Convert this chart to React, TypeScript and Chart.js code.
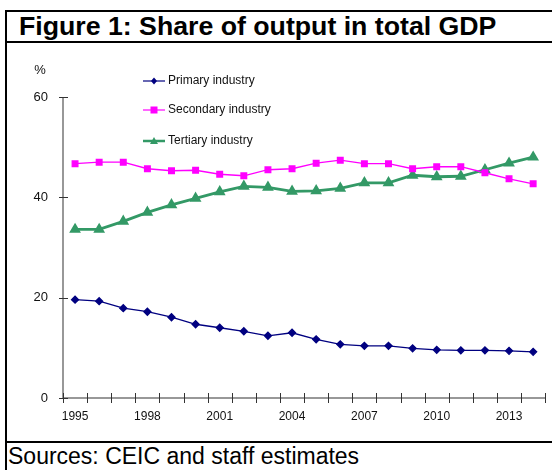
import React, { useEffect, useRef } from "react";
import { Chart, registerables } from "chart.js";

Chart.register(...registerables);

const years = [
  "1995", "1996", "1997", "1998", "1999", "2000", "2001", "2002", "2003", "2004",
  "2005", "2006", "2007", "2008", "2009", "2010", "2011", "2012", "2013", "2014",
];
const primary = [19.6, 19.3, 17.9, 17.2, 16.1, 14.7, 14.0, 13.3, 12.4, 13.0, 11.7, 10.7, 10.4, 10.4, 9.9, 9.6, 9.5, 9.5, 9.4, 9.2];
const secondary = [46.7, 47.0, 47.0, 45.7, 45.3, 45.4, 44.6, 44.3, 45.5, 45.7, 46.8, 47.4, 46.7, 46.7, 45.7, 46.1, 46.1, 44.9, 43.7, 42.7];
const tertiary = [33.6, 33.6, 35.2, 37.0, 38.5, 39.8, 41.1, 42.2, 42.0, 41.2, 41.3, 41.8, 42.9, 42.9, 44.4, 44.1, 44.2, 45.5, 46.8, 48.0];
const yTicks = [0, 20, 40, 60];
const seriesNames = ["Primary industry", "Secondary industry", "Tertiary industry"];
const titleText = "Figure 1: Share of output in total GDP";
const sourceText = "Sources: CEIC and staff estimates";
const unitText = "%";

const FONT = "'Liberation Sans', Arial, Helvetica, sans-serif";
const AXIS = "#777777";

const axesPlugin = {
  id: "customAxes",
  afterDatasetsDraw(chart: any) {
    const { ctx, chartArea, scales } = chart;
    const y = scales.y;
    const y0 = y.getPixelForValue(0);
    const yTop = y.getPixelForValue(60);
    const left = chartArea.left;
    const right = chartArea.right;
    ctx.save();
    ctx.strokeStyle = AXIS;
    ctx.lineWidth = 1.5;
    ctx.beginPath();
    ctx.moveTo(left, yTop);
    ctx.lineTo(left, y0);
    ctx.moveTo(left, y0);
    ctx.lineTo(right, y0);
    ctx.stroke();
    ctx.lineWidth = 1;
    ctx.strokeStyle = "#333";
    ctx.beginPath();
    yTicks.forEach((v) => {
      const py = Math.round(y.getPixelForValue(v)) + 0.5;
      ctx.moveTo(left - 4, py);
      ctx.lineTo(left + 5, py);
    });
    const n = years.length;
    const step = (right - left) / n;
    for (let k = 0; k <= n; k++) {
      const px = Math.round(left + k * step) + 0.5;
      ctx.moveTo(px, y0 - 5);
      ctx.lineTo(px, y0 + 5);
    }
    ctx.stroke();
    ctx.fillStyle = "#111";
    ctx.font = `13px ${FONT}`;
    ctx.textAlign = "center";
    ctx.textBaseline = "middle";
    ctx.fillText(unitText, 32, 27);
    ctx.restore();
  },
};

const legendPlugin = {
  id: "customLegend",
  afterDraw(chart: any) {
    const { ctx } = chart;
    const rows = [38, 67, 98];
    ctx.save();
    chart.data.datasets.forEach((ds: any, i: number) => {
      const yy = rows[i];
      const x1 = 135;
      const x2 = 157;
      ctx.strokeStyle = ds.borderColor;
      ctx.lineWidth = i === 2 ? 2.5 : 1.2;
      ctx.beginPath();
      ctx.moveTo(x1, yy);
      ctx.lineTo(x2, yy);
      ctx.stroke();
      ctx.fillStyle = ds.pointBackgroundColor;
      const cx = (x1 + x2) / 2;
      ctx.beginPath();
      if (ds.pointStyle === "rectRot") {
        ctx.moveTo(cx, yy - 3.5);
        ctx.lineTo(cx + 3, yy);
        ctx.lineTo(cx, yy + 3.5);
        ctx.lineTo(cx - 3, yy);
        ctx.closePath();
      } else if (ds.pointStyle === "rect") {
        ctx.rect(cx - 3.5, yy - 3.5, 7, 7);
      } else {
        ctx.moveTo(cx, yy - 4);
        ctx.lineTo(cx + 4, yy + 3);
        ctx.lineTo(cx - 4, yy + 3);
        ctx.closePath();
      }
      ctx.fill();
      ctx.fillStyle = "#111";
      ctx.font = `12px ${FONT}`;
      ctx.textAlign = "left";
      ctx.textBaseline = "middle";
      ctx.fillText(ds.label, 160, yy);
    });
    ctx.restore();
  },
};

export default function App() {
  const ref = useRef<HTMLCanvasElement | null>(null);
  useEffect(() => {
    if (!ref.current) return;
    const chart = new Chart(ref.current, {
      type: "line",
      data: {
        labels: years,
        datasets: [
          {
            label: seriesNames[0],
            data: primary,
            borderColor: "#000080",
            backgroundColor: "#000080",
            pointBackgroundColor: "#000080",
            pointBorderColor: "#000080",
            pointStyle: "rectRot",
            pointRadius: 3.5,
            borderWidth: 1.3,
          },
          {
            label: seriesNames[1],
            data: secondary,
            borderColor: "#FF00FF",
            backgroundColor: "#FF00FF",
            pointBackgroundColor: "#FF00FF",
            pointBorderColor: "#FF00FF",
            pointStyle: "rect",
            pointRadius: 4,
            borderWidth: 1.3,
          },
          {
            label: seriesNames[2],
            data: tertiary,
            borderColor: "#339966",
            backgroundColor: "#339966",
            pointBackgroundColor: "#339966",
            pointBorderColor: "#339966",
            pointStyle: "triangle",
            pointRadius: 4,
            borderWidth: 2.8,
          },
        ],
      },
      options: {
        animation: false,
        responsive: false,
        maintainAspectRatio: false,
        layout: { padding: { top: 54, right: 3, left: 0, bottom: 0 } },
        plugins: {
          legend: { display: false },
          title: { display: false },
          tooltip: { enabled: false },
        },
        elements: { line: { tension: 0 } },
        scales: {
          x: {
            type: "category",
            offset: true,
            grid: { display: false, drawTicks: false },
            border: { display: false },
            ticks: {
              autoSkip: false,
              maxRotation: 0,
              minRotation: 0,
              padding: 11,
              color: "#111",
              font: { family: FONT, size: 12 },
              callback: (_v: any, i: number) => (i % 3 === 0 ? years[i] : ""),
            },
            afterFit: (s: any) => {
              s.height = 43;
            },
          },
          y: {
            min: 0,
            max: 60,
            grid: { display: false, drawTicks: false },
            border: { display: false },
            afterBuildTicks: (s: any) => {
              s.ticks = yTicks.map((v) => ({ value: v }));
            },
            ticks: {
              padding: 15,
              color: "#111",
              font: { family: FONT, size: 13 },
            },
            afterFit: (s: any) => {
              s.width = 55;
            },
          },
        },
      },
      plugins: [axesPlugin, legendPlugin],
    });
    return () => chart.destroy();
  }, []);

  return (
    <div
      style={{
        position: "fixed",
        left: 0,
        top: 0,
        width: 552,
        height: 470,
        background: "#fff",
        overflow: "hidden",
        fontFamily: FONT,
      }}
    >
      <div style={{ position: "absolute", left: 5, top: 10, width: 547, height: 2, background: "#000" }} />
      <div style={{ position: "absolute", left: 5, top: 10, width: 2, height: 460, background: "#000" }} />
      <div style={{ position: "absolute", left: 5, top: 41, width: 547, height: 2, background: "#000" }} />
      <div style={{ position: "absolute", left: 5, top: 441, width: 547, height: 2, background: "#000" }} />
      <div
        style={{
          position: "absolute",
          left: 19,
          top: 12,
          fontSize: 26.7,
          fontWeight: "bold",
          lineHeight: "29px",
          color: "#000",
          whiteSpace: "nowrap",
        }}
      >
        {titleText}
      </div>
      <canvas
        ref={ref}
        width={544}
        height={398}
        style={{ position: "absolute", left: 8, top: 43, width: 544, height: 398 }}
      />
      <div
        style={{
          position: "absolute",
          left: 8,
          top: 443,
          fontSize: 23,
          lineHeight: "27px",
          color: "#000",
          whiteSpace: "nowrap",
        }}
      >
        {sourceText}
      </div>
    </div>
  );
}
